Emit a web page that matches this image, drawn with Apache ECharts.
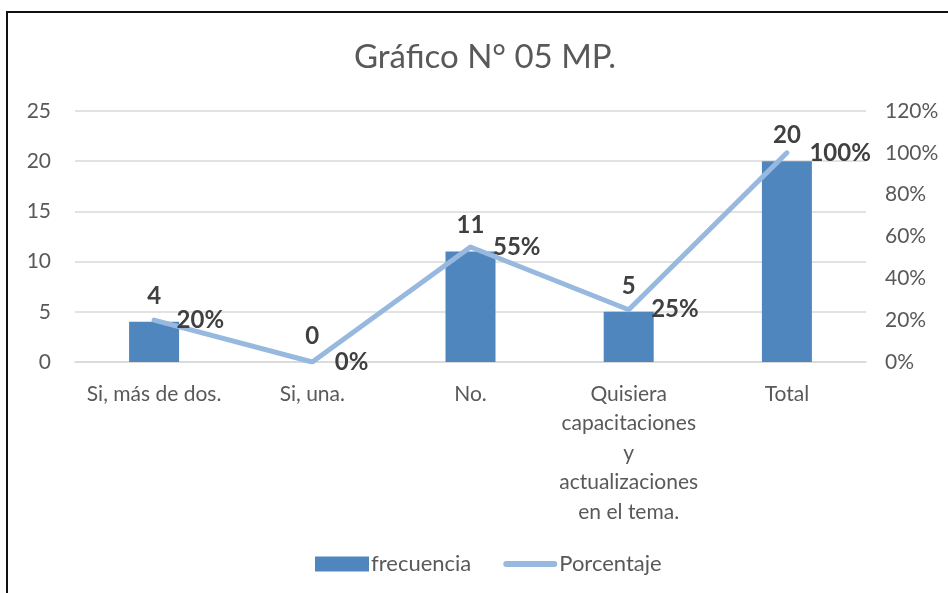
<!DOCTYPE html>
<html>
<head>
<meta charset="utf-8">
<script src="https://cdn.jsdelivr.net/npm/echarts@6/dist/echarts.min.js"></script>
<style>
html, body { margin: 0; padding: 0; background: #fff; }
#frame { position: absolute; left: 6px; top: 11px; width: 1000px; height: 700px; border-left: 2px solid #111; border-top: 2px solid #111; }
#chart { position: absolute; left: 0; top: 0; width: 948px; height: 593px; }
</style>
</head>
<body>
<div id="frame"></div>
<div id="chart"></div>
<script>
var categories = ['Si, más de dos.', 'Si, una.', 'No.', 'Quisiera capacitaciones y actualizaciones en el tema.', 'Total'];
var frecuencia = [4, 0, 11, 5, 20];
var porcentaje = [20, 0, 55, 25, 100];

var font = 'Lato, "Open Sans", sans-serif';
var chart = echarts.init(document.getElementById('chart'));

// wrap long category names the way the original does
function wrapLabel(v) {
  return v.replace('Quisiera capacitaciones y actualizaciones en el tema.',
    'Quisiera\ncapacitaciones\ny\nactualizaciones\nen el tema.');
}

var option = {
  backgroundColor: 'transparent',
  animation: false,
  title: {
    text: 'Gráfico N° 05 MP.',
    left: 480,
    top: 36,
    textAlign: 'center',
    textStyle: { fontFamily: font, fontSize: 33, fontWeight: 'normal', color: '#595959' }
  },
  legend: {
    bottom: 13,
    left: 310,
    itemGap: 32,
    itemWidth: 54,
    itemHeight: 15,
    textStyle: { fontFamily: font, fontSize: 22, color: '#595959', padding: [0, 0, 0, -3] },
    data: [
      { name: 'frecuencia', icon: 'rect' },
      { name: 'Porcentaje', icon: 'path://M3,0 H51 A3,3 0 0 1 51,6 H3 A3,3 0 0 1 3,0 Z' }
    ]
  },
  grid: { left: 75, right: 82, top: 111, bottom: 231 },
  xAxis: {
    type: 'category',
    data: categories,
    axisLine: { lineStyle: { color: '#d9d9d9', width: 1.5 } },
    axisTick: { show: false },
    axisLabel: {
      fontFamily: font, fontSize: 21, color: '#595959',
      lineHeight: 29.5, margin: 17, interval: 0, formatter: wrapLabel
    }
  },
  yAxis: [
    {
      type: 'value', min: 0, max: 25, interval: 5,
      axisLine: { show: false }, axisTick: { show: false },
      splitLine: { lineStyle: { color: '#d9d9d9', width: 1.5 } },
      axisLabel: { fontFamily: font, fontSize: 21, color: '#595959', margin: 24 }
    },
    {
      type: 'value', min: 0, max: 120, interval: 20,
      axisLine: { show: false }, axisTick: { show: false },
      splitLine: { show: false },
      axisLabel: { fontFamily: font, fontSize: 21, color: '#595959', margin: 19, formatter: '{value}%' }
    }
  ],
  series: [
    {
      name: 'frecuencia',
      type: 'bar',
      data: frecuencia,
      barWidth: 50,
      itemStyle: { color: '#4f86be' },
      label: {
        show: true, position: 'top', distance: 14,
        fontFamily: font, fontSize: 24, fontWeight: 'bold', color: '#404040'
      }
    },
    {
      name: 'Porcentaje',
      type: 'line',
      yAxisIndex: 1,
      data: porcentaje,
      symbol: 'circle',
      symbolSize: 1,
      showSymbol: true,
      lineStyle: { color: '#97b9e0', width: 5, cap: 'round', join: 'round' },
      itemStyle: { color: '#97b9e0' },
      label: {
        show: true, position: 'right', distance: 22,
        fontFamily: font, fontSize: 24, fontWeight: 'bold', color: '#404040',
        formatter: '{c}%'
      },
      z: 3
    }
  ]
};
chart.setOption(option);
</script>
</body>
</html>
